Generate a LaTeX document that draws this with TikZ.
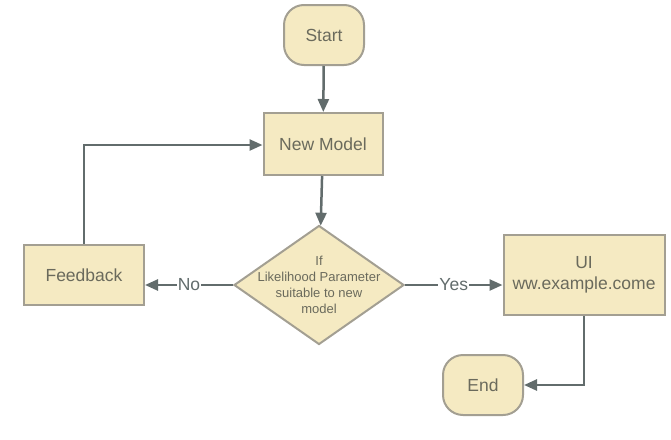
\documentclass[tikz,border=0pt]{standalone}
\usepackage{fontspec}
\setmainfont{Liberation Sans}
\usetikzlibrary{arrows.meta,shapes.geometric}
\definecolor{boxfill}{HTML}{F5EAC2}
\definecolor{boxline}{HTML}{A39F92}
\definecolor{conn}{HTML}{626C6C}
\definecolor{txt}{HTML}{6A6A5C}
\tikzset{
  x=1pt,y=-1pt,
  base/.style={draw=boxline,fill=boxfill,line width=2pt,text=txt,font=\fontsize{17.5}{21}\selectfont,align=center,inner sep=0pt},
  proc/.style={base,rectangle},
  term/.style={base,rectangle,rounded corners=20pt},
  decision/.style={base,diamond,aspect=1.43},
  dectext/.style={text=txt,font=\fontsize{13}{16}\selectfont,align=center,inner sep=0pt},
  conn/.style={draw=conn,line width=2.5pt,-{Triangle[length=13pt,width=11pt]}},
  lbl/.style={fill=white,text=conn,font=\fontsize{17.5}{21}\selectfont,inner sep=1pt}
}
\begin{document}
\begin{tikzpicture}
\useasboundingbox (0,0) rectangle (671,439);
\node[term,minimum width=80pt,minimum height=60pt] (start) at (324,35) {Start};
\node[proc,minimum width=119pt,minimum height=62pt] (model) at (323,144) {New Model};
\node[decision,minimum width=170pt,minimum height=119pt] (dec) at (319,285) {};
\node[dectext] (dect) at (dec.center) {If\\Likelihood Parameter\\suitable to new\\model};
\node[proc,minimum width=120pt,minimum height=60pt] (fb) at (84,275) {Feedback};
\node[proc,minimum width=161pt,minimum height=80pt] (ui) at (584,275) {UI\\ww.example.come};
\node[term,minimum width=80pt,minimum height=60pt] (end) at (483,385) {End};
\coordinate (fbtop) at (84,145);
\draw[conn] (start) -- (model);
\draw[conn] (model) -- (dec);
\draw[conn] (dec.west) -- node[lbl,pos=0.5]{No} (fb.east |- dec.west);
\draw[conn] (dec.east) -- node[lbl,pos=0.5]{Yes} (ui.west |- dec.east);
\draw[conn] (fb.north) |- (model.west |- fbtop);
\draw[conn] (ui.south) |- (end.east);
\end{tikzpicture}
\end{document}
